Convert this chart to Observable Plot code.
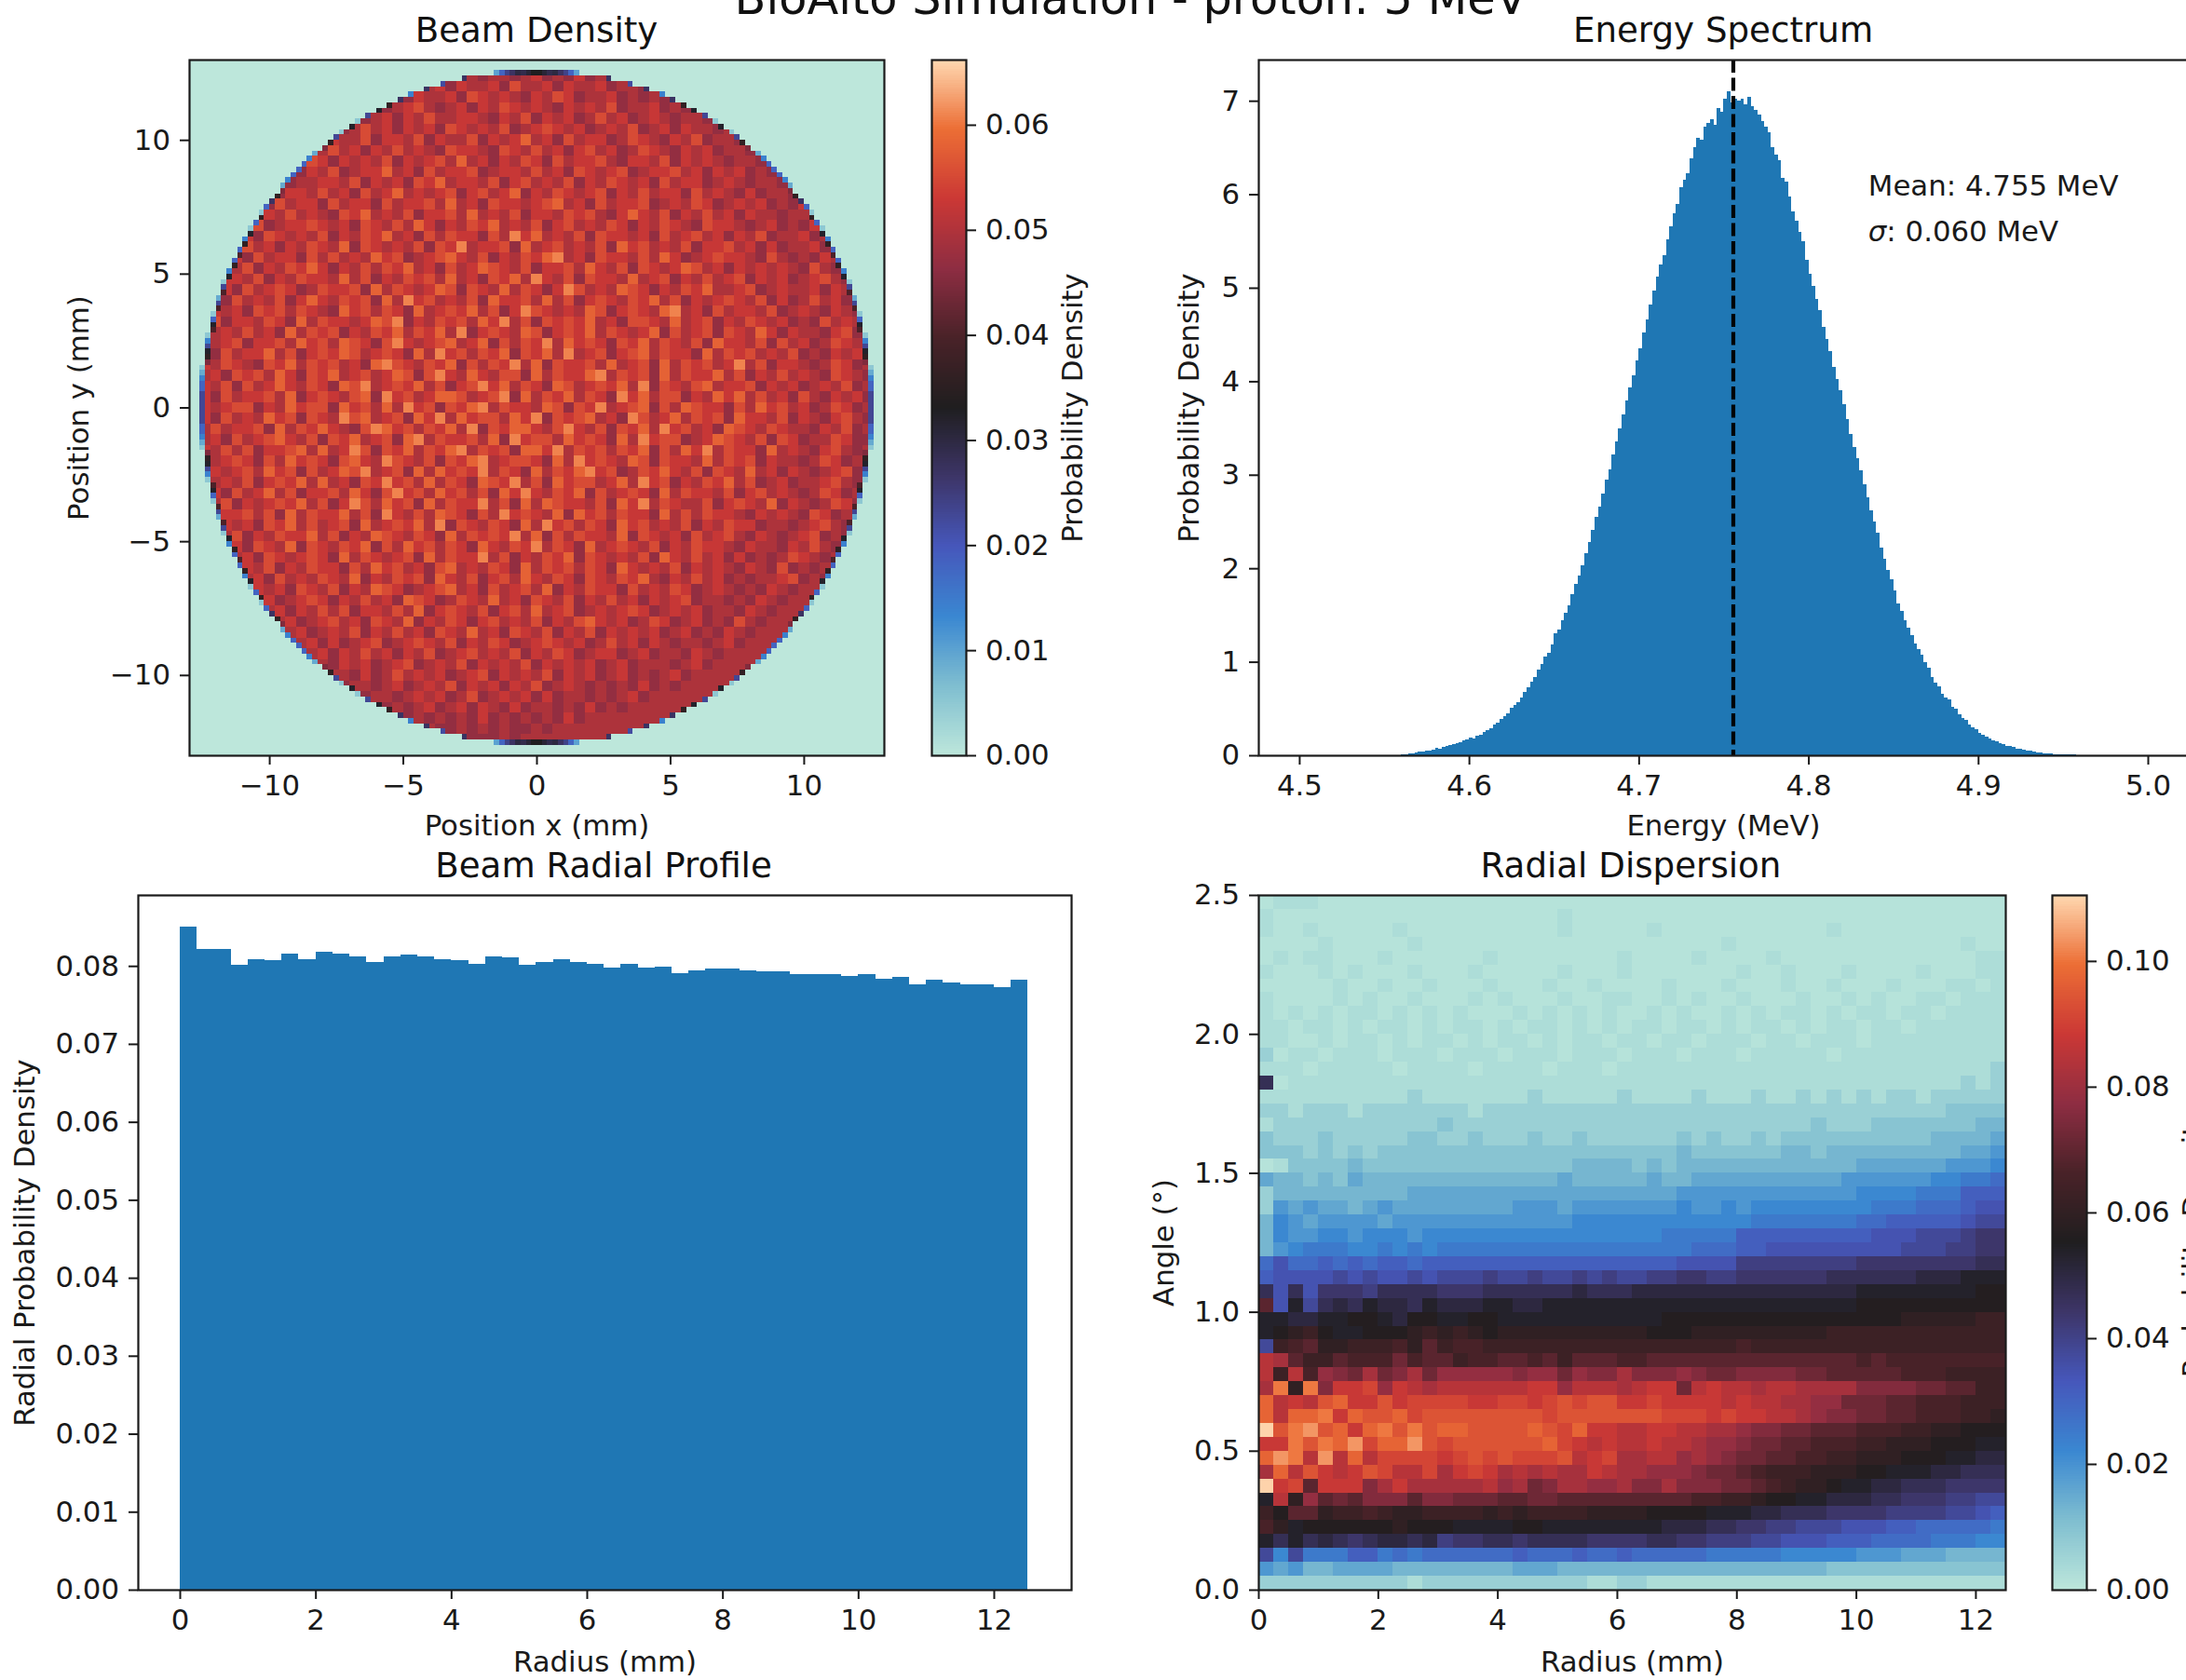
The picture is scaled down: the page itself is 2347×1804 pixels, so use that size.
<!DOCTYPE html>
<html><head><meta charset="utf-8">
<script src="https://cdn.jsdelivr.net/npm/d3@7"></script>
<script src="https://cdn.jsdelivr.net/npm/@observablehq/plot@0.6"></script>
<style>
html,body{margin:0;padding:0;background:#fff;overflow:hidden}
#page{position:relative;width:2347px;height:1804px;overflow:hidden;font-family:"DejaVu Sans";color:#111}
#page svg{position:absolute;overflow:visible}
.t{position:absolute;white-space:nowrap;line-height:1;transform:translate(-50%,-50%)}
</style></head><body><div id="page"></div>
<script>
// Values are eye estimates from the reference. The cell-level speckle of the 130x130
// Beam Density map is not legible cell by cell, so it is hand-estimated on a 0.4 mm grid.
const iceFire = ["#bde7db","#7fbed0","#3a87d1","#4657bb","#3d3568","#1f1e1f","#492228","#8e2d42","#cb3835","#ec6e35","#ffd9b2"];

// Beam Density: level digit = 0.0385 + d*0.0028, rows top to bottom, 0.4 mm cells
const beamRows = `
0000000000000 0000000000003 4344345343534 3000000000000 0000000000000
0000000000000 0000034434535 4453644535445 3443340000000 0000000000000
0000000000000 0003445354453 6545435465344 5343435300000 0000000000000
0000000000000 0344534564345 3546545435454 6344534354300 0000000000000
0000000000003 4453453546445 5435463545346 4534543443530 0000000000000
0000000000344 5346453545365 4546345654534 5463453544343 3000000000000
0000000003453 5446355463544 6354574536455 3465435463443 4300000000000
0000000034534 6453546454365 5436546453564 5346543545344 3530000000000
0000000345465 3545463545647 4535465364556 4355463545434 4353000000000
0000003445354 6345574536455 6345546453654 5634556453545 3432430000000
0000034563445 5463545365745 5463564546354 6545364553454 3443540000000
0000345435546 4536457454563 5645735465456 3546455364543 5344353000000
0000445364553 6455364556474 5365545674536 4556345465345 4534353400000
0003453546454 3657454635564 7454635546564 3575463546453 5443445300000
0003546345565 4536546475354 6574546356454 6535465436554 3453435343000
0034453654546 3546574536465 5364857454636 5545364564535 4634453430000
0034564535465 4736545463658 4556374564546 3756454635564 5353445364000
0344536455364 6454756345675 4635465784536 5546475345655 4364343543000
0345463546575 3546465745364 5765463556475 4636545764535 4545436434300
0345546354655 4746354656474 5365748546365 5474563546456 3545345643400
3445364565346 5563746545763 6547465358645 4765354657445 6345445354340
3453645463575 4656374856454 6375564746356 5465746354565 4635346453430
3454536564654 3756465374565 7463586545476 3565478453645 5463454354340
3463554653746 5545768354656 4758463656574 5366547456354 6545343645433
3545464537465 6354657465748 3565476356574 6545736456365 4753544356343
3445635564756 4765368545674 5736465847565 3657465463755 4636453465433
4536455746356 5764565374856 4657365748456 3567465537465 6454634354534
3546543657465 6453786546573 6465847365564 7456374656458 4635543465343
4453656475365 7456457636854 7546637465578 4656374655746 3546454365434
3546364575465 3768456574635 6857465376456 5748365467455 6354534546343
4536455647356 5467385645776 4568374657465 3857466354757 4645364354534
3545663547566 3756474856365 7846554763658 4567364765536 4756453465343
4536454756365 4867456375847 5664758365674 5386457465637 5546354356433
3464556374657 5436875646574 8365775468546 3657485645376 5465443546343
4453645675463 6574563784655 6473856647565 3748566345765 4636534465334
3546463556747 4586365746578 4656377584656 4657364758465 5374543564343
3445653647565 3675486546365 7845665374856 5476365547465 6354434653433
4354564756364 5768456374756 5846537465785 6346575463654 7453543456343
3445463565747 4536585647465 3765846375664 5748563546574 6345344564340
3453645746355 6475368564756 4637585465736 4565374655463 5645434653430
3446354565746 3586475637465 5846374765546 3758465446356 5473543465340
0345564637465 5746385464765 3648565473756 4655374646554 3545436534300
0345453657464 5637456574836 5465374856465 3756454635465 5344345643300
0344635465574 6354765465374 6565847364655 4736545364564 3543456343000
0034536547365 4657364756465 3754658465374 5654635465543 5443546434000
0034453654565 3746545637465 5846354657365 4546375464535 3434654340000
0003454635465 5364756453674 5465374656465 3754546354543 5436343430000
0003445364546 5473546563754 6356475465365 4657435464534 3445634300000
0000345453654 6354765345674 5364564735465 5364546534543 4354340000000
0000344534565 3546453765346 5474536546354 6453545634434 3543400000000
0000034453546 4635546473565 4635647456345 4565345453443 5434000000000
0000003445345 6453654735465 3564546354675 4534653453436 4340000000000
0000000344534 5463546453654 7453654635463 5454534534354 3000000000000
0000000034453 5345634565463 5465345654534 6453543443453 0000000000000
0000000003445 3546453546345 6454635465345 5345344354300 0000000000000
0000000000344 3545345634546 3545463545453 4534443453000 0000000000000
0000000000003 4435346454534 5635454635453 4534345340000 0000000000000
0000000000000 0344345345463 5453546345434 3435343000000 0000000000000
0000000000000 0003443454534 6345453534434 3453400000000 0000000000000
0000000000000 0000034345345 3543534434353 4300000000000 0000000000000
0000000000000 0000000343434 3534343435340 0000000000000 0000000000000
0000000000000 0000000000334 3434334300000 0000000000000 0000000000000
0000000000000 0000000000000 3334300000000 0000000000000 0000000000000
`.trim().split("\n").map(r => r.replace(/ /g, ""));
// half-width of the disc in 0.2 mm cells, per row from row 2 down to the equator (mirrored below)
const beamExtent = [8,14,18,21,24,26,28,30,32,34,35,37,38,39,40,42,43,44,45,46,47,48,48,49,50,51,52,52,53,54,54,55,55,56,56,57,57,58,58,59,59,59,60,60,60,61,61,61,61,62,62,62,62,62,62,63,63,63,63,63,63,63,63];
// value of the partly covered outermost cell of each of those rows (x0.001)
const beamRim = [10,27,22,27,14,27,36,32,23,5,32,5,23,36,45,9,14,18,18,18,14,9,45,36,27,18,5,36,18,5,32,14,36,18,40,18,36,14,32,5,23,40,9,23,40,5,18,32,40,5,14,23,32,36,45,5,9,14,18,18,23,23,23];
// first disc row, cells from the centre outward (x0.001)
const beamTopRow = [33,31,29,30,27,24,18,10];

// Energy Spectrum: 0.002 MeV bins from 4.560 MeV
const energyStart = 4.56, energyBin = 0.002;
const energyValues = [.01,.01,.02,.02,.03,.04,.04,.05,.05,.06,.08,.07,.09,.10,.11,.12,.13,.14,.16,.17,.19,.18,.21,.22,.25,.27,.29,.33,.35,.39,.42,.45,.51,.54,.57,.62,.68,.73,.79,.84,.92,.98,1.06,1.10,1.19,1.30,1.34,1.44,1.52,1.60,1.72,1.83,1.92,2.03,2.16,2.28,2.41,2.55,2.66,2.80,2.95,3.06,3.22,3.36,3.50,3.65,3.79,3.93,4.06,4.22,4.35,4.52,4.66,4.82,4.97,5.12,5.25,5.35,5.52,5.66,5.80,5.90,6.08,6.16,6.22,6.38,6.50,6.60,6.58,6.72,6.76,6.80,6.74,6.92,6.88,7.02,7.10,6.98,7.02,7.00,7.02,6.96,7.04,6.94,6.90,6.85,6.78,6.72,6.66,6.50,6.42,6.36,6.18,6.14,5.98,5.82,5.72,5.60,5.50,5.30,5.15,5.02,4.88,4.76,4.58,4.45,4.32,4.15,4.02,3.90,3.75,3.60,3.44,3.30,3.18,3.05,2.90,2.76,2.62,2.50,2.38,2.22,2.10,1.98,1.88,1.76,1.62,1.54,1.44,1.36,1.28,1.20,1.14,1.08,1.00,.94,.84,.78,.74,.66,.62,.60,.52,.50,.44,.40,.38,.33,.30,.28,.24,.22,.20,.18,.16,.15,.13,.12,.10,.10,.09,.07,.07,.06,.05,.05,.04,.03,.03,.02,.02,.02,.01,.01,.01,.01,.01,.005,.005,.003];
const energyMean = 4.7555;

// Beam Radial Profile: 0.25 mm bins
const radialValues = [.08499,.08212,.08212,.08016,.08088,.08068,.0816,.08088,.08176,.0816,.08124,.08053,.08124,.0814,.08124,.08088,.08068,.08032,.08124,.08104,.08016,.08053,.08088,.08053,.08032,.0798,.08032,.0798,.07996,.07909,.07945,.07964,.07964,.07945,.07928,.07928,.07892,.07892,.07892,.07873,.07892,.07837,.07856,.07765,.0782,.07785,.07765,.07765,.0773,.0782];

// Radial Dispersion: base-36 digit = d*0.00314 (0 and 1 read as 0.0012 and 0.0028), rows from 2.5 deg down to 0, 0.25 mm columns
const dispersionRows = `
0111000000 0000000000 0000000000 0000000000 0000000000
1000000000 0000000000 1000000000 0000000000 0000000000
1001000001 0000000000 1000001000 0000000010 0000000000
0000100000 1000000000 0000000000 0100000000 0000000100
0101100010 0000010000 0000100001 0000100000 0000000011
1000101000 1000100000 1000100000 0010010001 0000100011
0000010010 0100010001 0010000100 0100010010 0010001101
1000010100 1000101000 1001100101 0010001001 0100110111
1010101101 0101000101 0101001010 0101011010 1101101111
1101101011 0101101011 0101011011 0101101011 0110111111
1100101101 0110101101 0110110110 1110110111 0111111111
2011011101 1101110111 0111011101 1101111101 1111111111
1110111110 1111011110 1110111111 1111111111 1111111112
f011111111 1111111111 1111111111 1111111111 1111111212
1111111111 2111111121 1111211112 1112112121 2122122222
2212221222 2222122222 2222222222 2222222222 2222223333
1222222222 2232222222 2222222222 2222222322 2333333344
3222322222 3322322232 2322222232 3223233333 3333344445
3332323233 3333333333 3333333343 3333344344 4444444556
0133334333 3333333333 3444434344 4444444444 5555556667
5443435444 4444444444 5444445445 5555555556 6666677889
2444444444 5555555555 5555555566 6666666666 7777888aaa
2656554565 5555555666 5666666676 6767777777 7888999abb
4765666656 6666666666 6777777777 7778888888 99aaaaabcc
4766776777 6777777777 7777777888 88aaaaaaaa abbbcccdee
4678887787 8788888888 8888888889 99aabbbbbb bbbcccddee
9b99a9a9aa 9aaaaaaaaa aaaaaaaabb bbdddddddd eeeeeeeeff
abbbbcbcbb cbcccdccdc cdcdccddee ddeeeeeeff ffffggghhh
fbfbeeedff ffeeefffff fgfffggggg gggggggggg hhhhhhhhii
mbhcfgfhgg fhggghhggh hhhhhhhhhh hhhhhhhhhh iiiiiiiiii
hhgghhiihg iihhiihhhh hhhhhhhiii iiiiiiiiii iiijjjjjkk
hijkihhiii jkjkjijjjj jjjjjjiiij jjjjjjjjkk kkkkkkkkkk
cklmjjkkkl jmkllkkkkk kkkkkkkkkk kklkkkkkkk kkkkkkkkkk
rqmkkmllln lmmkllmmlm kmmmllmmmm mmmmmmmmmm lmllllllll
rkrlponqno qnpppppopp npooqooopo nnoooonnmm mmmlllkkkk
qwjwosstps rqrrrrrrss prrrqrssnr srrqrrqqqq oooonnmmkk
vrsruvssus ttttssttst utuusstsss srsrrqqppn nnmmlllkkk
vrvvwsvuuv tuuuuuuuut uuuuuuuttt stssrrqpoo nnmmlllkkj
zuwxuvsvwu wuvvuuuuvu tvssrrssrr qqpoonnmmm lllkkjjiii
sswuwvxtvv xutuuuuuuv tsrsrrsrrq pponnmmlll kkjjjiiihh
vxwrxrvrtt ttstututtt urstqqrrpq ponnmmllkk jjjiiihhgg
qvrusrsutr rtqstsqrqr qqsrqqpppo nnmlkkkjjj iihhhggfff
zstmsssoqs qqqqqrpqno qqppqooqoo onnmlkjjih hggfffeeee
hrjpmnmooo moonnnmmnn mmmmmmmmml lkkjiihhgg gffeeeddcc
kimmjkklkj jkkkkjkjkk kkjjjjiiii hhhggfffee eeddddccba
ljhiiiiiij iiihhhhiih hhhhhhhggg ffeeddcccb bbaa999998
hfhfgfefgg fgdeeffeff ffeeeeffee dddccbbbaa a999988877
c7c888aa89 8999999a99 9a99a99999 8888877777 6665554444
6564455554 4444444555 4444444444 4444444433 3333333333
2222222222 1222222222 2211221111 1111111111 1111111111
`.trim().split("\n").map(r => r.replace(/ /g, ""));

const beamTicks = [-10,-5,0,5,10];
const energyYTicks = [0,1,2,3,4,5,6,7];
const energyXTicks = [4.5,4.6,4.7,4.8,4.9,5.0];
const radialXTicks = [0,2,4,6,8,10,12];
const radialYTicks = [0,.01,.02,.03,.04,.05,.06,.07,.08];
const angleTicks = [0,.5,1,1.5,2,2.5];
const beamBarTicks = [0,.01,.02,.03,.04,.05,.06];
const dispBarTicks = [0,.02,.04,.06,.08,.1];

const page = document.getElementById("page");
const FS = 30.8, INK = "#1a1a1a";
const fmt1 = d3.format(".1f"), fmt2 = d3.format(".2f");
const minus = d => String(d).replace("-", "\u2212");
const iceScale = vmax => ({type:"linear", domain:[0,vmax], interpolate:d3.piecewise(d3.interpolateRgb, iceFire), clamp:true});

function place(fx, fy, fw, fh, opts, ml=190, mr=170, mt=30, mb=115) {
  const svg = Plot.plot({
    width: ml+fw+mr, height: mt+fh+mb, marginLeft:ml, marginRight:mr, marginTop:mt, marginBottom:mb,
    style:{fontFamily:"DejaVu Sans", fontSize:FS+"px", background:"none", color:INK, overflow:"visible"},
    ...opts
  });
  svg.style.left = (fx-ml)+"px"; svg.style.top = (fy-mt)+"px";
  page.appendChild(svg);
  return svg;
}
const axX = (ticks, fmt, label, offset=85) => Plot.axisX({ticks, tickFormat:fmt, tickSize:10, tickPadding:11, fontSize:FS, strokeWidth:2, stroke:INK, fill:INK, label, labelAnchor:"center", labelOffset:offset, labelArrow:"none"});
const axY = (ticks, fmt, label, offset, anchor="left") => Plot.axisY({anchor, ticks, tickFormat:fmt, tickSize:10, tickPadding:10.5, fontSize:FS, strokeWidth:2, stroke:INK, fill:INK, label, labelAnchor:"center", labelOffset:offset, labelArrow:"none"});
const frame = () => Plot.frame({stroke:INK, strokeWidth:2.2});

// Beam Density cells
const beamCells = [];
for (let i = 0; i < 130; i++) {
  const idx = i < 65 ? i : 129 - i;
  if (idx < 2) continue;
  const k = idx - 2, hw = beamExtent[k];
  for (let c = 0; c < 130; c++) {
    const d = c < 65 ? 64 - c : c - 65;
    if (d >= hw) continue;
    let v;
    if (k === 0) v = beamTopRow[d] / 1000;
    else if (d === hw - 1) v = beamRim[k] / 1000;
    else {
      const row = beamRows[Math.floor(i/2) - 1] || "";
      const ch = row[Math.floor(c/2)];
      const lvl = ch === undefined || ch === "0" ? 4 : +ch;
      v = 0.0385 + lvl * 0.0028;
    }
    beamCells.push({x1:-13+c*.2, x2:-13+(c+1)*.2, y1:13-i*.2, y2:13-(i+1)*.2, v});
  }
}
place(203,64,746,747,{
  x:{domain:[-13,13]}, y:{domain:[-13,13]}, color:iceScale(0.0662),
  marks:[
    Plot.frame({fill:iceFire[0]}),
    Plot.rect(beamCells,{x1:"x1",x2:"x2",y1:"y1",y2:"y2",fill:"v",shapeRendering:"crispEdges"}),
    frame(), axX(beamTicks,minus,"Position x (mm)"), axY(beamTicks,minus,"Position y (mm)",130)
  ]});

// colour bars
function colorBar(fx, fy, fw, fh, vmax, ticks, label) {
  const steps = d3.range(300).map(i => ({y1:i/300*vmax, y2:(i+1)/300*vmax, v:(i+.5)/300*vmax}));
  return place(fx,fy,fw,fh,{
    x:{domain:[0,1], axis:null}, y:{domain:[0,vmax]}, color:iceScale(vmax),
    marks:[
      Plot.rect(steps,{x1:()=>0,x2:()=>1,y1:"y1",y2:"y2",fill:"v",shapeRendering:"crispEdges"}),
      frame(), axY(ticks,fmt2,label,124,"right")
    ]},20,170);
}
colorBar(1000,64,37,747,0.0662,beamBarTicks,"Probability Density");
colorBar(2203,961,37,746,0.1105,dispBarTicks,"Probability Density");

// Energy Spectrum
const energySvg = place(1351,64,998,747,{
  x:{domain:[4.4759,5.0236]}, y:{domain:[0,7.44]},
  marks:[
    Plot.rect(energyValues,{x1:(d,i)=>energyStart+i*energyBin, x2:(d,i)=>energyStart+(i+1)*energyBin, y1:()=>0, y2:d=>d, fill:"#1f77b4", shapeRendering:"crispEdges"}),
    Plot.ruleX([energyMean],{stroke:"#000",strokeWidth:4.2,strokeDasharray:"14,5.5"}),
    Plot.text(["Mean: 4.755 MeV"],{x:()=>4.835,y:()=>6.09,text:d=>d,textAnchor:"start",fontSize:FS,fill:INK}),
    Plot.text(["\u03c3: 0.060 MeV"],{x:()=>4.835,y:()=>5.60,text:d=>d,textAnchor:"start",fontSize:FS,fill:INK}),
    frame(), axX(energyXTicks,fmt1,"Energy (MeV)"), axY(energyYTicks,d=>d,"Probability Density",86)
  ]},190,20);
energySvg.querySelectorAll("text").forEach(t => {
  if (t.textContent.startsWith("\u03c3")) {
    const el = t.querySelector("tspan") || t;
    el.innerHTML = '<tspan font-style="italic">\u03c3</tspan>: 0.060 MeV';
  }
});

// Beam Radial Profile
place(148,961,1002,746,{
  x:{domain:[-.618,13.14]}, y:{domain:[0,.0891]},
  marks:[
    Plot.rect(radialValues,{x1:(d,i)=>i*.25, x2:(d,i)=>(i+1)*.25, y1:()=>0, y2:d=>d, fill:"#1f77b4", shapeRendering:"crispEdges"}),
    frame(), axX(radialXTicks,d=>d,"Radius (mm)",87), axY(radialYTicks,fmt2,"Radial Probability Density",133)
  ]},140,20);

// Radial Dispersion
const dispLow = {"0":.0012, "1":.0028};
const dispCells = [];
dispersionRows.forEach((row,i) => { for (let c=0;c<50;c++) {
  const ch = row[c];
  dispCells.push({x1:c*.25, x2:(c+1)*.25, y1:2.5-i*.05, y2:2.5-(i+1)*.05, v: dispLow[ch] ?? parseInt(ch,36)*.00314});
}});
place(1351,961,802,746,{
  x:{domain:[0,12.5]}, y:{domain:[0,2.5]}, color:iceScale(0.1105),
  marks:[
    Plot.rect(dispCells,{x1:"x1",x2:"x2",y1:"y1",y2:"y2",fill:"v",shapeRendering:"crispEdges"}),
    frame(), axX(radialXTicks,d=>d,"Radius (mm)",87), axY(angleTicks,fmt1,"Angle (\u00b0)",113)
  ]},190,20);

// titles
const title = (s,x,y,size) => { const d=document.createElement("div"); d.className="t"; d.textContent=s; d.style.cssText=`left:${x}px;top:${y}px;font-size:${size}px`; page.appendChild(d); };
title("BioAlto Simulation - proton: 5 MeV",1214,-1,49.4);
title("Beam Density",576,33,37.2);
title("Energy Spectrum",1850,33,37.2);
title("Beam Radial Profile",648,929.5,37.2);
title("Radial Dispersion",1751,929.5,37.2);
</script></body></html>
